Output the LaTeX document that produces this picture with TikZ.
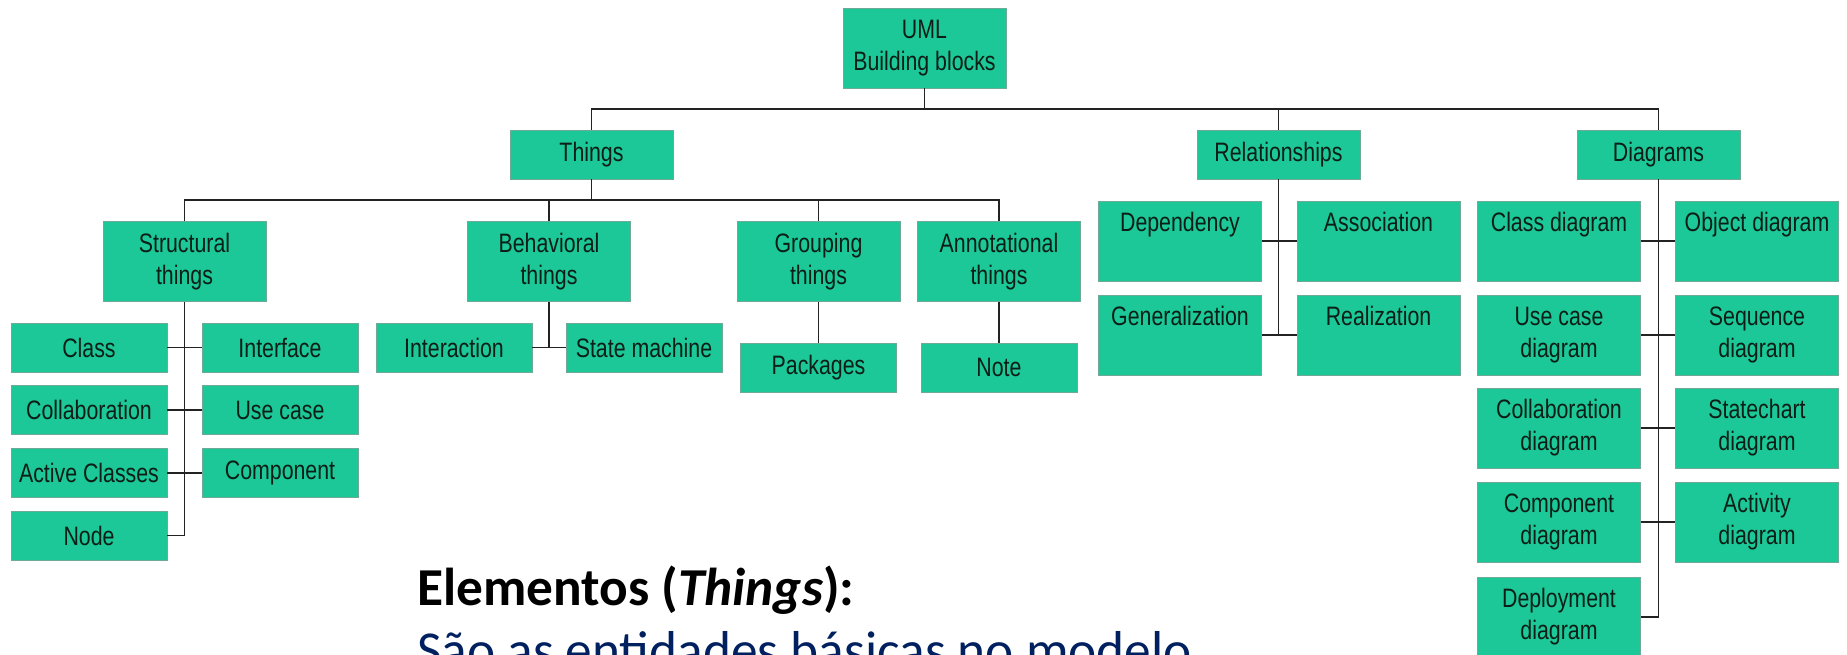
\documentclass[tikz,border=0pt]{standalone}
\usepackage{fontspec}
\newfontfamily\boxfont{Liberation Sans}[FakeStretch=0.8]
\newfontfamily\calib{Carlito}
\definecolor{boxgreen}{RGB}{28,200,152}
\definecolor{boxedge}{RGB}{110,170,150}
\definecolor{boxtext}{RGB}{12,30,22}
\definecolor{navyblue}{RGB}{0,32,96}
\definecolor{linec}{RGB}{35,35,35}
\begin{document}
\begin{tikzpicture}[x=0.75pt,y=-0.75pt,
  box/.style={fill=boxgreen, draw=boxedge, line width=0.4pt, text=boxtext, inner sep=0pt, align=center,
    font=\boxfont\fontsize{20}{24}\selectfont},
  lvlone/.style={box, minimum width=122.25pt, minimum height=36.75pt},
  tallbox/.style={box, minimum width=122.25pt, minimum height=60pt},
  leafbox/.style={box, minimum width=117pt, minimum height=36.75pt},
  conn/.style={draw=linec, line width=1.4pt}]
\useasboundingbox (0,0) rectangle (1847,655);
\fill[white] (0,0) rectangle (1847,655);
\clip (0,0) rectangle (1847,655);

% level 0
\node[tallbox] (uml) at (924.5,48) {UML\\Building blocks};
% level 1
\node[lvlone] (things) at (591.5,154.5) {Things};
\node[lvlone] (rel) at (1278.5,154.5) {Relationships};
\node[lvlone] (diag) at (1658.5,154.5) {Diagrams};
\coordinate (busA) at (0,109);
\coordinate (busB) at (0,200);

% things children
\node[tallbox] (struct) at (184.5,261.5) {Structural\\things};
\node[tallbox] (behav) at (549,261.5) {Behavioral\\things};
\node[tallbox] (group) at (818.5,261.5) {Grouping\\things};
\node[tallbox] (annot) at (999,261.5) {Annotational\\things};

% structural leaves
\node[leafbox] (cls) at (89,347.5) {Class};
\node[leafbox] (iface) at (280,347.5) {Interface};
\node[leafbox] (collab) at (89,410) {Collaboration};
\node[leafbox] (usecase) at (280,410) {Use case};
\node[leafbox] (active) at (89,473) {Active Classes};
\node[leafbox] (comp) at (280,473) {Component};
\node[leafbox] (nd) at (89,535.5) {Node};
% behavioral leaves
\node[leafbox] (inter) at (454,347.5) {Interaction};
\node[leafbox] (state) at (644,347.5) {State machine};
% grouping / annotational leaves
\node[leafbox] (pkg) at (818.5,367.5) {Packages};
\node[leafbox] (note) at (999,367.5) {Note};

% relationships children
\node[tallbox] (dep) at (1180,241) {Dependency\\\phantom{dg}};
\node[tallbox] (assoc) at (1378.5,241) {Association\\\phantom{dg}};
\node[tallbox] (gen) at (1180,335) {Generalization\\\phantom{dg}};
\node[tallbox] (real) at (1378.5,335) {Realization\\\phantom{dg}};

% diagrams children
\node[tallbox] (cd) at (1559,241) {Class diagram\\\phantom{dg}};
\node[tallbox] (od) at (1757,241) {Object diagram\\\phantom{dg}};
\node[tallbox] (ucd) at (1559,335) {Use case\\diagram};
\node[tallbox] (seq) at (1757,335) {Sequence\\diagram};
\node[tallbox] (cold) at (1559,428) {Collaboration\\diagram};
\node[tallbox] (stc) at (1757,428) {Statechart\\diagram};
\node[tallbox] (compd) at (1559,522) {Component\\diagram};
\node[tallbox] (act) at (1757,522) {Activity\\diagram};
\node[tallbox] (depl) at (1559,617) {Deployment\\diagram};

% connectors: top bus
\draw[conn] (uml.south) -- (uml.south |- busA);
\draw[conn] (things.north) -- (things.north |- busA) -| (diag.north);
\draw[conn] (rel.north) -- (rel.north |- busA);
% things bus
\draw[conn] (things.south) -- (things.south |- busB);
\draw[conn] (struct.north) -- (struct.north |- busB) -| (annot.north);
\draw[conn] (behav.north) -- (behav.north |- busB);
\draw[conn] (group.north) -- (group.north |- busB);
% structural
\draw[conn] (struct.south) |- (nd.east);
\draw[conn] (cls.east) -- (iface.west);
\draw[conn] (collab.east) -- (usecase.west);
\draw[conn] (active.east) -- (comp.west);
% behavioral
\draw[conn] (behav.south) -- (behav.south |- inter.east);
\draw[conn] (inter.east) -- (state.west);
% grouping, annotational
\draw[conn] (group.south) -- (pkg.north);
\draw[conn] (annot.south) -- (note.north);
% relationships
\draw[conn] (rel.south) -- (rel.south |- gen.east);
\draw[conn] (dep.east) -- (assoc.west);
\draw[conn] (gen.east) -- (real.west);
% diagrams
\draw[conn] (diag.south) |- (depl.east);
\draw[conn] (cd.east) -- (od.west);
\draw[conn] (ucd.east) -- (seq.west);
\draw[conn] (cold.east) -- (stc.west);
\draw[conn] (compd.east) -- (act.west);

% caption text
\node[anchor=base west, inner sep=0pt, font=\calib\fontsize{40}{48}\selectfont\bfseries] (title) at (417,605) {Elementos (\textit{Things}):};
\node[anchor=base west, inner sep=0pt, text=navyblue, font=\calib\fontsize{40}{48}\selectfont] (sub) at (417,668) {São as entidades básicas no modelo};
\end{tikzpicture}
\end{document}
